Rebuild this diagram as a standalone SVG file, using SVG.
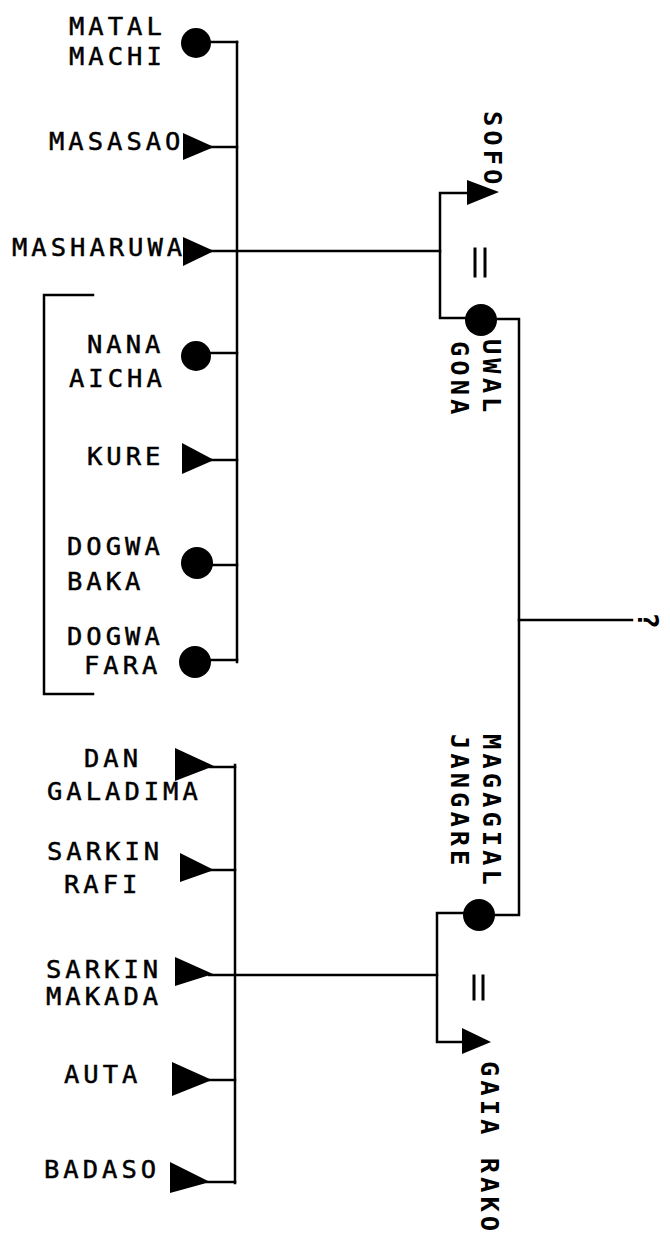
<svg xmlns="http://www.w3.org/2000/svg" width="670" height="1244" viewBox="0 0 670 1244">
<style>
.l{font-family:"DejaVu Sans Mono","Liberation Mono",monospace;font-size:25.5px;letter-spacing:4px;fill:#000;stroke:#000;stroke-width:0.5}
.r{font-family:"DejaVu Sans Mono","Liberation Mono",monospace;font-size:25.5px;font-weight:bold;letter-spacing:4px;fill:#000}
.c{stroke:#000;stroke-width:2.5;fill:none;stroke-linecap:square}
.f{fill:#000}
</style>
<rect width="670" height="1244" fill="#fff"/>
<g id="connectors" class="c">
<path d="M237,42 V662"/>
<path d="M208,42 H237"/>
<path d="M210,147 H237"/>
<path d="M210,251 H440"/>
<path d="M208,353 H237"/>
<path d="M210,460 H237"/>
<path d="M210,565 H237"/>
<path d="M208,660 H237"/>
<path d="M467,193 H440 V318 H466"/>
<path d="M495,319 H519 V915 H494"/>
<path d="M519,620 H632"/>
<path d="M235,765 V1183"/>
<path d="M210,767 H235"/>
<path d="M210,870 H235"/>
<path d="M209,975 H437"/>
<path d="M209,1080 H235"/>
<path d="M207,1182 H235"/>
<path d="M464,913 H437 V1042 H462"/>
<path d="M93,295 H44 V694 H93"/>
<path d="M475,249 V276 M485,249 V276" stroke-width="3"/>
<path d="M474,976 V999 M483,976 V999" stroke-width="3"/>
</g>
<g id="matal-machi"><circle class="f" cx="196" cy="43" r="15"/><text class="l" x="69" y="35">MATAL</text><text class="l" x="69" y="65">MACHI</text></g>
<g id="masasao"><polygon class="f" points="183,133 183,160 214,147"/><text class="l" x="49" y="150">MASASAO</text></g>
<g id="masharuwa"><polygon class="f" points="183,237 183,266 214,251"/><text class="l" x="12" y="256">MASHARUWA</text></g>
<g id="nana-aicha"><circle class="f" cx="196" cy="356" r="15"/><text class="l" x="87" y="353">NANA</text><text class="l" x="69" y="387">AICHA</text></g>
<g id="kure"><polygon class="f" points="182,443 182,474 214,460"/><text class="l" x="87" y="465">KURE</text></g>
<g id="dogwa-baka"><circle class="f" cx="197" cy="563" r="16"/><text class="l" x="67" y="555">DOGWA</text><text class="l" x="67" y="590">BAKA</text></g>
<g id="dogwa-fara"><circle class="f" cx="195" cy="662" r="16"/><text class="l" x="67" y="645">DOGWA</text><text class="l" x="84" y="674">FARA</text></g>
<g id="dan-galadima"><polygon class="f" points="175,748 175,781 214,766"/><text class="l" x="84" y="767">DAN</text><text class="l" x="47" y="800">GALADIMA</text></g>
<g id="sarkin-rafi"><polygon class="f" points="180,853 180,882 214,870"/><text class="l" x="47" y="860">SARKIN</text><text class="l" x="64" y="893">RAFI</text></g>
<g id="sarkin-makada"><polygon class="f" points="175,957 175,986 213,974"/><text class="l" x="46" y="978">SARKIN</text><text class="l" x="46" y="1005">MAKADA</text></g>
<g id="auta"><polygon class="f" points="172,1062 172,1096 212,1080"/><text class="l" x="64" y="1083">AUTA</text></g>
<g id="badaso"><polygon class="f" points="170,1162 170,1193 210,1182"/><text class="l" x="44" y="1178">BADASO</text></g>
<g id="sofo"><polygon class="f" points="467,180 467,205 499,192"/><text class="r" transform="translate(484,111) rotate(90)">SOFO</text></g>
<g id="uwal-gona"><circle class="f" cx="481" cy="320" r="16"/><text class="r" transform="translate(483,339) rotate(90)">UWAL</text><text class="r" transform="translate(451,341) rotate(90)">GONA</text></g>
<g id="magagial-jangare"><circle class="f" cx="479" cy="915" r="16"/><text class="r" transform="translate(483,734) rotate(90)">MAGAGIAL</text><text class="r" transform="translate(451,734) rotate(90)">JANGARE</text></g>
<g id="gaia-rako"><polygon class="f" points="462,1028 462,1054 491,1042"/><text class="r" transform="translate(481,1061) rotate(90)">GAIA RAKO</text></g>
<g id="unknown"><text class="r" style="font-size:28px" transform="translate(638,612) rotate(90)">?</text></g>
</svg>
